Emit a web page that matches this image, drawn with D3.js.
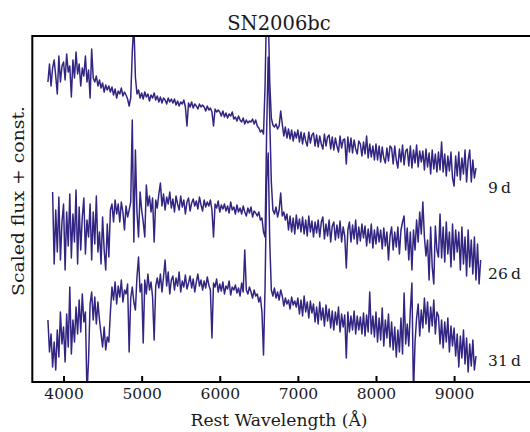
<!DOCTYPE html>
<html>
<head>
<meta charset="utf-8">
<script src="https://cdn.jsdelivr.net/npm/d3@7"></script>
<style>
  body { margin: 0; background: #fff; }
  svg { display: block; }
  text { font-family: "DejaVu Serif", "Liberation Serif", serif; fill: #1a1a1a; }
</style>
</head>
<body>
<div id="my_dataviz"></div>
<script>
// wavelength grids (rest frame, Angstrom), 20 A sampling
const wave9 = d3.range(3800, 9281, 20);
const wave26 = d3.range(3860, 9341, 20);
const wave31 = d3.range(3800, 9281, 20);

// scaled flux + offset (arbitrary units)
const flux9 = [
  300, 318, 296, 314, 322, 306, 288, 326, 300, 316,
  320, 302, 328, 310, 316, 285, 322, 304, 330, 308,
  318, 296, 314, 306, 326, 300, 312, 284, 333, 304,
  300, 306, 296, 302, 294, 299, 290, 297, 292, 296,
  290, 295, 287, 293, 284, 291, 288, 294, 286, 290,
  287, 283, 276, 284, 330, 360, 305, 288, 292, 284,
  289, 283, 290, 285, 288, 281, 287, 284, 289, 282,
  286, 280, 285, 279, 284, 282, 278, 284, 280, 283,
  279, 283, 277, 281, 276, 280, 278, 282, 275, 256,
  279, 275, 280, 274, 278, 276, 273, 278, 275, 277,
  275, 271, 276, 272, 274, 270, 256, 273, 270, 272,
  270, 266, 271, 265, 269, 264, 268, 266, 270, 263,
  265, 261, 266, 262, 260, 264, 258, 262, 259, 261,
  260, 263, 258, 262, 256, 254, 250, 252, 248, 296,
  380, 372, 300, 264, 257, 255, 258, 253, 256, 271,
  258, 246, 255, 244, 253, 243, 252, 241, 250, 244,
  252, 240, 250, 238, 249, 241, 236, 250, 239, 247,
  249, 236, 247, 235, 246, 238, 233, 248, 236, 245,
  247, 233, 245, 232, 244, 236, 230, 246, 234, 242,
  243, 218, 245, 230, 244, 229, 242, 233, 228, 241,
  238, 226, 240, 228, 246, 224, 238, 225, 236, 222,
  238, 222, 236, 220, 235, 224, 219, 234, 221, 236,
  234, 218, 236, 222, 214, 233, 220, 237, 217, 231,
  233, 216, 236, 214, 232, 219, 237, 215, 231, 220,
  231, 212, 233, 215, 229, 208, 232, 213, 228, 210,
  230, 212, 240, 210, 228, 206, 226, 211, 230, 204,
  196, 226, 206, 230, 202, 224, 208, 232, 200, 222,
  232, 200, 222, 204, 214
];

const flux26 = [
  190, 118, 172, 130, 185, 122, 160, 178, 112, 170,
  136, 188, 124, 168, 140, 192, 118, 175, 132, 165,
  184, 128, 162, 145, 178, 122, 170, 138, 186, 130,
  150, 118, 165, 132, 112, 158, 125, 172, 178, 160,
  182, 168, 178, 160, 180, 170, 152, 176, 165, 172,
  180, 262, 140, 232, 170, 145, 190, 172, 160, 145,
  197, 176, 186, 170, 184, 140, 182, 174, 188, 199,
  176, 188, 172, 185, 178, 190, 174, 183, 170, 186,
  178, 172, 186, 175, 182, 168, 180, 184, 171, 179,
  183, 176, 181, 173, 185, 177, 171, 182, 175, 180,
  176, 182, 172, 145, 178, 174, 181, 170, 177, 173,
  178, 171, 176, 169, 180, 172, 175, 168, 177, 170,
  174, 168, 176, 170, 166, 174, 169, 175, 165, 171,
  169, 166, 170, 162, 164, 150, 145, 250, 325, 262,
  200, 172, 168, 175, 165, 172, 189, 166, 170, 162,
  168, 152, 166, 150, 164, 148, 167, 153, 163, 150,
  165, 148, 162, 146, 166, 150, 161, 145, 160, 149,
  162, 145, 160, 165, 143, 158, 146, 162, 140, 156,
  160, 142, 157, 144, 161, 140, 155, 146, 114, 152,
  160, 140, 157, 143, 162, 138, 155, 141, 158, 144,
  156, 136, 153, 139, 158, 134, 152, 138, 155, 140,
  152, 133, 154, 136, 150, 122, 146, 155, 132, 150,
  135, 155, 128, 152, 160, 166, 132, 154, 122, 150,
  112, 152, 132, 162, 140, 170, 148, 180, 145, 126,
  142, 102, 155, 115, 98, 156, 132, 125, 168, 124,
  155, 120, 160, 128, 150, 115, 158, 122, 152, 130,
  150, 112, 155, 118, 145, 106, 152, 115, 142, 108,
  145, 102, 138, 98, 122
];

const flux31 = [
  62, 30, 48, 15, 40, 12, 52, 25, 70, 38,
  55, 20, 68, 35, 95, 28, 62, 40, 75, 48,
  82, 50, 88, 60, 70, -12, 22, 78, 90, 62,
  85, 58, 80, 62, 48, 35, 55, 32, 45, 40,
  70, 95, 82, 100, 78, 96, 85, 102, 80, 92,
  88, 98, 30, 84, 95, 80, 72, 105, 125, 90,
  98, 39, 102, 88, 108, 92, 100, 85, 42, 96,
  104, 94, 108, 90, 105, 122, 96, 110, 88, 102,
  106, 92, 104, 96, 110, 90, 101, 95, 107, 93,
  99, 106, 94, 103, 90, 100, 108, 96, 102, 92,
  101, 94, 105, 97, 92, 44, 99, 95, 103, 90,
  98, 91, 100, 88, 96, 93, 101, 87, 95, 92,
  97, 89, 94, 86, 99, 90, 132, 92, 88, 95,
  90, 84, 92, 86, 88, 80, 85, 70, 27, 95,
  200, 229, 140, 92, 86, 94, 84, 90, 82, 92,
  86, 76, 84, 78, 82, 73, 85, 77, 81, 75,
  84, 68, 82, 66, 86, 70, 80, 64, 81, 69,
  78, 60, 75, 58, 80, 62, 74, 56, 77, 61,
  73, 54, 71, 52, 70, 57, 75, 50, 68, 55,
  67, 24, 70, 50, 66, 52, 71, 48, 66, 52,
  65, 48, 69, 46, 67, 50, 90, 48, 66, 45,
  70, 40, 64, 42, 74, 36, 62, 44, 68, 35,
  60, 32, 55, 25, 52, 30, 64, 28, 89, 38,
  58, 36, 72, 99, -12, 40, 64, 78, 46, 72,
  54, 84, 58, 80, 50, 75, 56, 82, 48, 70,
  66, 38, 62, 34, 60, 40, 64, 30, 56, 36,
  54, 26, 48, 15, 46, 24, 52, 18, 44, 10,
  38, 16, 42, 12, 26
];

const epochs = ["9\u2009d", "26\u2009d", "31\u2009d"];
const epochLabelFlux = [189, 103, 16];
const xTicks = [4000, 5000, 6000, 7000, 8000, 9000];

// dimensions - plot box runs off the right edge like the original figure
const margin = { top: 36, right: -2.2, bottom: 50, left: 32.3 },
  width = 530 - margin.left - margin.right,
  height = 432 - margin.top - margin.bottom;

const svg = d3.select("#my_dataviz")
  .append("svg")
  .attr("width", 530)
  .attr("height", 432)
  .attr("xmlns", "http://www.w3.org/2000/svg");

const g = svg.append("g")
  .attr("transform", `translate(${margin.left},${margin.top})`);

const x = d3.scaleLinear().domain([3600, 10000]).range([0, width]);
const y = d3.scaleLinear().domain([0, 346]).range([height, 0]);

g.append("clipPath").attr("id", "plotclip")
  .append("rect").attr("width", width).attr("height", height);

const spectra = [
  { wave: wave9, flux: flux9 },
  { wave: wave26, flux: flux26 },
  { wave: wave31, flux: flux31 }
];

const line = d3.line()
  .x(d => x(d[0]))
  .y(d => y(d[1]));

g.append("g").attr("clip-path", "url(#plotclip)")
  .selectAll("path")
  .data(spectra)
  .join("path")
  .attr("fill", "none")
  .attr("stroke", "#322682")
  .attr("stroke-width", 1.5)
  .attr("stroke-linejoin", "round")
  .attr("d", s => line(d3.zip(s.wave, s.flux)));

// x axis, ticks pointing inward
const xAxis = g.append("g")
  .attr("transform", `translate(0,${height})`)
  .call(d3.axisBottom(x).tickValues(xTicks).tickFormat(d3.format("d"))
    .tickSizeInner(-6).tickSizeOuter(0).tickPadding(6));
xAxis.attr("font-family", null);
xAxis.select(".domain").remove();
xAxis.selectAll(".tick line").attr("stroke", "#000").attr("stroke-width", 2);
xAxis.selectAll(".tick text")
  .attr("font-size", 15.5).attr("fill", "#1a1a1a");

// frame: left, top, bottom
g.append("path")
  .attr("fill", "none").attr("stroke", "#000").attr("stroke-width", 2)
  .attr("d", `M${width + 5},0H0V${height}H${width + 5}`);

// epoch labels
g.selectAll(".epoch")
  .data(epochs)
  .join("text")
  .attr("class", "epoch")
  .attr("x", x(9435))
  .attr("y", (d, i) => y(epochLabelFlux[i]))
  .attr("font-size", 15.5)
  .text(d => d);

// title and axis labels
svg.append("text")
  .attr("x", 279).attr("y", 30)
  .attr("text-anchor", "middle")
  .attr("font-size", 19.5)
  .text("SN2006bc");

svg.append("text")
  .attr("x", 279).attr("y", 426)
  .attr("text-anchor", "middle")
  .attr("font-size", 17)
  .attr("textLength", 177).attr("lengthAdjust", "spacingAndGlyphs")
  .text("Rest Wavelength (\u00C5)");

svg.append("text")
  .attr("transform", "translate(24,201) rotate(-90)")
  .attr("text-anchor", "middle")
  .attr("font-size", 17.5)
  .attr("textLength", 190).attr("lengthAdjust", "spacingAndGlyphs")
  .text("Scaled flux + const.");
</script>
</body>
</html>
